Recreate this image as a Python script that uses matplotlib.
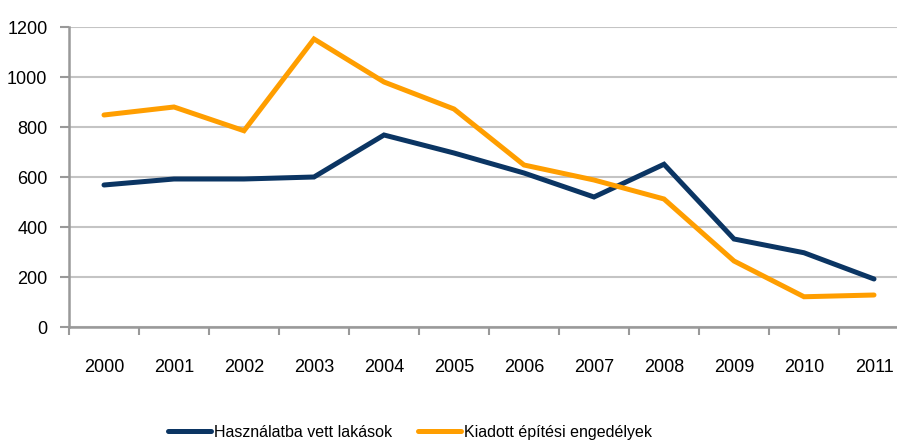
import matplotlib
matplotlib.use("Agg")
import matplotlib.pyplot as plt
import numpy as np

years = ["2000", "2001", "2002", "2003", "2004", "2005",
         "2006", "2007", "2008", "2009", "2010", "2011"]
hasznalatba = [568, 592, 592, 600, 768, 696, 616, 520, 651, 352, 297, 192]
engedelyek = [848, 880, 785, 1152, 980, 872, 648, 588, 512, 264, 121, 128]
y_ticks = [0, 200, 400, 600, 800, 1000, 1200]

plt.rcParams["font.family"] = ["Liberation Sans", "DejaVu Sans"]

fig = plt.figure(figsize=(8.97, 4.43), dpi=100)
# plot area runs a bit past the right edge, as in the original crop
ax = fig.add_axes([69 / 897, 1 - 327 / 443, 840 / 897, 300 / 443])

x = np.arange(len(years))
l1, = ax.plot(x, hasznalatba, color="#0b3563", lw=3.6, solid_capstyle="round",
              solid_joinstyle="miter", zorder=3)
l2, = ax.plot(x, engedelyek, color="#ff9e00", lw=3.6, solid_capstyle="round",
              solid_joinstyle="miter", zorder=3)

ax.set_xlim(-0.5, len(years) - 0.5)
ax.set_ylim(0, 1200)
ax.set_yticks(y_ticks)
ax.set_yticklabels([str(v) for v in y_ticks])
ax.set_xticks(x)
ax.set_xticklabels(years)
ax.set_xticks(np.arange(-0.5, len(years), 1.0), minor=True)

ax.tick_params(axis="x", which="major", length=0, pad=23, labelsize=13)
ax.tick_params(axis="x", which="minor", length=6, width=1.5, color="#999999", direction="out")
ax.tick_params(axis="y", length=6.5, width=1.5, color="#999999", pad=9, labelsize=13)

ax.grid(axis="y", color="#c4c4c4", lw=1.5)
ax.set_axisbelow(True)
for side in ("top", "right"):
    ax.spines[side].set_visible(False)
for side in ("left", "bottom"):
    ax.spines[side].set_color("#999999")
    ax.spines[side].set_linewidth(1.8)

# two legend entries, placed separately like the original
for line, lab, xpos in [(l1, "Használatba vett lakások", 168 / 897),
                        (l2, "Kiadott építési engedélyek", 418 / 897)]:
    fig.legend([line], [lab], loc="center left", bbox_to_anchor=(xpos, 0.024),
               frameon=False, fontsize=11.5, handlelength=2.7, handletextpad=0.2,
               borderaxespad=0, borderpad=0)

fig.savefig("out.png", dpi=100)
